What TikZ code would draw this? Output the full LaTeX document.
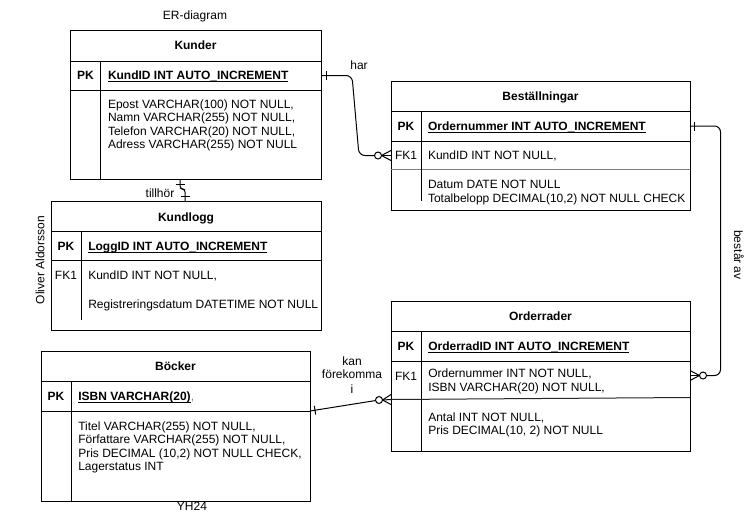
\documentclass[tikz,border=0pt]{standalone}
\usepackage{fontspec}
\setmainfont{Liberation Sans}
\definecolor{sepgray}{RGB}{128,128,128}
\newsavebox{\keyulbox}
\newcommand{\keyul}[1]{\sbox{\keyulbox}{#1}\rlap{\rule[-2.5pt]{\wd\keyulbox}{1pt}}\usebox{\keyulbox}}
\begin{document}
\begin{tikzpicture}[x=1pt,y=-1pt,line width=1pt,
  every node/.style={font=\fontsize{12}{14}\selectfont,inner sep=0pt,outer sep=0pt},
  tbl/.style={draw,anchor=north west},
  rowbox/.style={anchor=north west},
  ttl/.style={anchor=base,font=\fontsize{12}{14}\selectfont\bfseries},
  keylbl/.style={anchor=base,font=\fontsize{12}{14}\selectfont\bfseries},
  fklbl/.style={anchor=base},
  fld/.style={anchor=base west},
  keyfld/.style={anchor=base west,font=\fontsize{12}{14}\selectfont\bfseries},
  lbl/.style={anchor=base},
  conn/.style={draw,line width=1pt,rounded corners=6pt},
  circ/.style={draw,fill=white,circle,minimum size=7pt,line width=1pt}]
\useasboundingbox (0,0) rectangle (755,520);
\fill[white] (0,0) rectangle (755,520);

% ---------------- Kunder ----------------
\node[tbl,minimum width=251pt,minimum height=149pt] (kunder) at (70,30) {};
\node[rowbox,minimum width=251pt,minimum height=29pt] (kunPK) at (70,61) {};
\draw (70,61) -- (321,61);
\draw (70,90) -- (321,90);
\draw (100.5,61) -- (100.5,179);
\node[ttl] (kunT) at (195.5,49.8) {Kunder};
\node[keylbl] (kunPKl) at (85.5,79.8) {PK};
\node[keyfld] (kunPKf) at (108,79.8) {\keyul{KundID INT AUTO\_INCREMENT}};
\node[fld] (kunB1) at (108,108.3) {Epost VARCHAR(100) NOT NULL,};
\node[fld] (kunB2) at (108,121.8) {Namn VARCHAR(255) NOT NULL,};
\node[fld] (kunB3) at (108,135.3) {Telefon VARCHAR(20) NOT NULL,};
\node[fld] (kunB4) at (108,148.8) {Adress VARCHAR(255) NOT NULL};

% ---------------- Beställningar ----------------
\node[tbl,minimum width=299pt,minimum height=129pt] (best) at (391,81) {};
\node[rowbox,minimum width=299pt,minimum height=30pt] (bestPK) at (391,111) {};
\node[rowbox,minimum width=299pt,minimum height=29pt] (bestFK) at (391,141) {};
\draw (391,111) -- (690,111);
\draw (391,141) -- (690,141);
\draw[sepgray] (391,169.5) -- (690,169.5);
\draw (421,111) -- (421,201);
\node[ttl] (bestT) at (540.5,100.3) {Beställningar};
\node[keylbl] (bestPKl) at (406,130.3) {PK};
\node[keyfld] (bestPKf) at (428,130.3) {\keyul{Ordernummer INT AUTO\_INCREMENT}};
\node[fklbl] (bestFKl) at (406,159.8) {FK1};
\node[fld] (bestFKf) at (428,159.8) {KundID INT NOT NULL,};
\node[fld] (bestB1) at (428,188.3) {Datum DATE NOT NULL};
\node[fld] (bestB2) at (428,202.3) {Totalbelopp DECIMAL(10,2) NOT NULL CHECK};

% ---------------- Kundlogg ----------------
\node[tbl,minimum width=270pt,minimum height=129pt] (kundlogg) at (51,201) {};
\draw (51,231) -- (321,231);
\draw (51,260) -- (321,260);
\draw (81,231) -- (81,320);
\node[ttl] (klT) at (186,221) {Kundlogg};
\node[keylbl] (klPKl) at (66,250.3) {PK};
\node[keyfld] (klPKf) at (88.3,250.3) {\keyul{LoggID INT AUTO\_INCREMENT}};
\node[fklbl] (klFKl) at (66,279.3) {FK1};
\node[fld] (klFKf) at (88.3,279.3) {KundID INT NOT NULL,};
\node[fld] (klB1) at (88.3,308.3) {Registreringsdatum DATETIME NOT NULL};

% ---------------- Orderrader ----------------
\node[tbl,minimum width=299pt,minimum height=150pt] (order) at (391,301) {};
\node[rowbox,minimum width=299pt,minimum height=30pt] (ordPK) at (391,331) {};
\node[rowbox,minimum width=299pt,minimum height=29pt] (ordFK) at (391,361) {};
\node[rowbox,minimum width=299pt,minimum height=38.5pt] (ordFKall) at (391,361) {};
\draw (391,331) -- (690,331);
\draw (391,361) -- (690,361);
\draw (421,331) -- (421,451);
\node[ttl] (ordT) at (540.5,320.3) {Orderrader};
\node[keylbl] (ordPKl) at (406,350.3) {PK};
\node[keyfld] (ordPKf) at (428.3,350.3) {\keyul{OrderradID INT AUTO\_INCREMENT}};
\node[fklbl] (ordFKl) at (406,380.3) {FK1};
\node[fld] (ordFK1) at (428.3,377.6) {Ordernummer INT NOT NULL,};
\node[fld] (ordFK2) at (428.3,391) {ISBN VARCHAR(20) NOT NULL,};
\node[fld] (ordB1) at (428.3,421.3) {Antal INT NOT NULL,};
\node[fld] (ordB2) at (428.3,434.6) {Pris DECIMAL(10, 2) NOT NULL};

% ---------------- Böcker ----------------
\node[tbl,minimum width=269pt,minimum height=150pt] (boker) at (41,351) {};
\node[rowbox,minimum width=269pt,minimum height=30pt] (bokPK) at (41,381) {};
\draw (41,381) -- (310,381);
\draw (41,411) -- (310,411);
\draw (71,381) -- (71,501);
\node[ttl] (bokT) at (175.5,370.3) {Böcker};
\node[keylbl] (bokPKl) at (56,400.3) {PK};
\node[keyfld] (bokPKf) at (78.3,400.3) {\keyul{ISBN VARCHAR(20)}\textcolor{sepgray}{\mdseries,}};
\node[fld] (bokB1) at (78.3,430.3) {Titel VARCHAR(255) NOT NULL,};
\node[fld] (bokB2) at (78.3,443.6) {Författare VARCHAR(255) NOT NULL,};
\node[fld] (bokB3) at (78.3,457) {Pris DECIMAL (10,2) NOT NULL CHECK,};
\node[fld] (bokB4) at (78.3,470.3) {Lagerstatus INT};

% ---------------- Connectors ----------------
% har
\node[circ] (c1) at (378,155.5) {};
\draw[conn] (kunPK.east) -- (352,75.5) -- (359,155.5) -- (c1.west);
\draw ([xshift=5pt,yshift=4.5pt]kunPK.east) -- ([xshift=5pt,yshift=-4.5pt]kunPK.east);
\draw (c1.east) -- ([yshift=5pt]bestFK.west);
\draw (c1.east) -- (bestFK.west);
\draw (c1.east) -- ([yshift=-5pt]bestFK.west);

% består av
\node[circ] (c2) at (703,375.5) {};
\draw[conn] (bestPK.east) -- (720.5,126) -- (720.5,375.5) -- (c2.east);
\draw ([xshift=4.5pt,yshift=4.5pt]bestPK.east) -- ([xshift=4.5pt,yshift=-4.5pt]bestPK.east);
\draw (c2.west) -- ([yshift=5pt]ordFK.east);
\draw (c2.west) -- (ordFK.east);
\draw (c2.west) -- ([yshift=-5pt]ordFK.east);

% kan förekomma i
\node[circ] (c3) at (379,400) {};
\draw (bokPK.south east) -- (c3);
\draw (314.3,405.8) -- (315.7,414.6);
\draw (c3.east) -- ([yshift=5pt]ordFKall.south west);
\draw (c3.east) -- (ordFKall.south west);
\draw (c3.east) -- ([yshift=-5pt]ordFKall.south west);
\draw[black!85] (ordFKall.south west) -- ([yshift=2pt]ordFKall.south east);

% tillhör
\draw[conn,rounded corners=3pt] ([xshift=110pt]kunder.south west) -- (180,189) -- (185,189) -- ([xshift=134pt]kundlogg.north west);
\draw (175.5,184) -- (184.5,184);
\draw (180.5,196) -- (189.5,196);

% ---------------- Labels ----------------
\node[lbl] (title) at (195,19.3) {ER-diagram};
\node[lbl] (harL) at (359,69.3) {har};
\node[lbl] (tillL) at (160,197) {tillhör};
\node[lbl] (kan1) at (352,365.3) {kan};
\node[lbl] (kan2) at (352,378.6) {förekomma};
\node[lbl] (kan3) at (352,393) {i};
\node[rotate=90] (author) at (40,260) {Oliver Aldorsson};
\node[rotate=-90] (bestarL) at (739,255) {består av};
\node[lbl] (yh) at (192,510.3) {YH24};
\end{tikzpicture}
\end{document}
